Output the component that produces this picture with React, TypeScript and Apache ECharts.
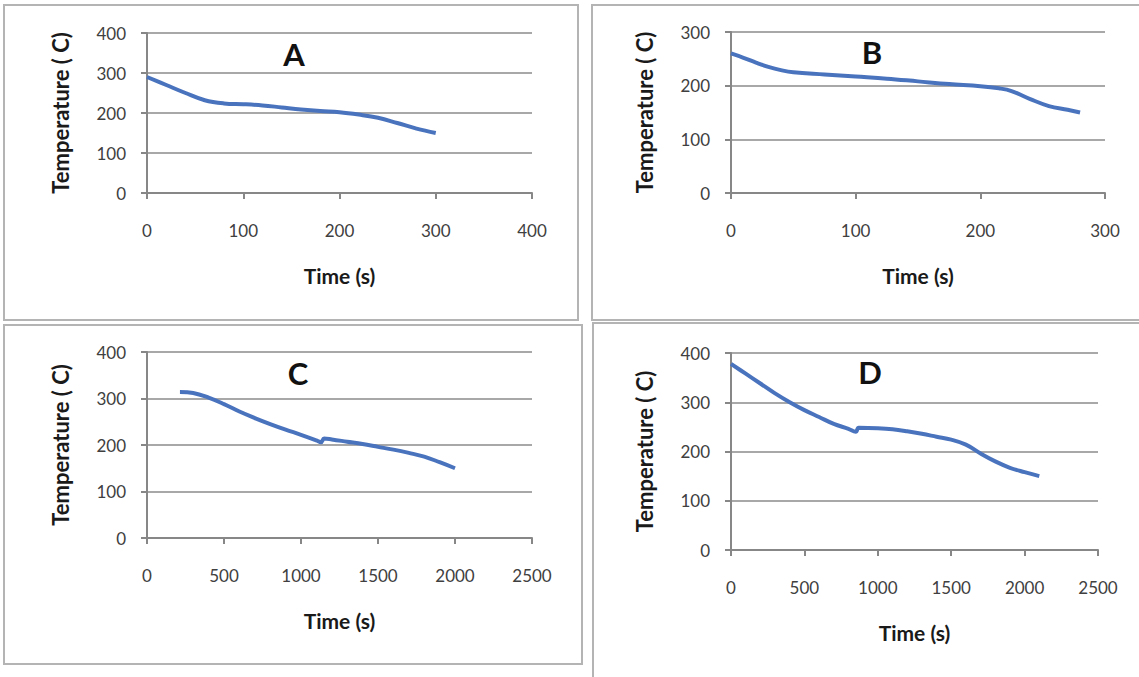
import React, { useEffect, useRef } from "react";
import * as echarts from "echarts";

// Panel A: Time (s) vs Temperature (C)
const dataA: [number, number][] = [
  [0, 290], [20, 270], [40, 250], [60, 232], [80, 224], [100, 222], [120, 219],
  [140, 214], [160, 209], [180, 205], [200, 202], [220, 196], [240, 188],
  [260, 175], [280, 161], [300, 150],
];
// Panel B
const dataB: [number, number][] = [
  [0, 260], [10, 252], [20, 243], [30, 235], [40, 229], [50, 225], [75, 221],
  [100, 217], [125, 213], [150, 208], [175, 203], [200, 199], [215, 195],
  [225, 190], [240, 175], [255, 162], [270, 155], [280, 150],
];
// Panel C
const dataC: [number, number][] = [
  [214, 314], [300, 312], [400, 302], [500, 288], [600, 272], [700, 258],
  [800, 245], [900, 233], [1000, 222], [1100, 210], [1130, 206], [1150, 214],
  [1200, 212], [1300, 207], [1400, 202], [1500, 196], [1600, 190], [1700, 183],
  [1800, 175], [1900, 163], [2000, 150],
];
// Panel D
const dataD: [number, number][] = [
  [0, 378], [100, 358], [200, 338], [300, 318], [400, 300], [500, 284],
  [600, 270], [700, 256], [800, 246], [850, 240], [870, 248], [1000, 247],
  [1100, 245], [1200, 241], [1300, 236], [1400, 230], [1500, 224], [1600, 214],
  [1700, 196], [1800, 180], [1900, 167], [2000, 158], [2100, 150],
];

const panelLetters = ["A", "B", "C", "D"];
const xMaxes = [400, 300, 2500, 2500];
const xIntervals = [100, 100, 500, 500];
const yMaxes = [400, 300, 400, 400];
const yInterval = 100;
const xTitle = "Time (s)";
const yTitle = "Temperature ( C)";

const FONT = "Lato, 'Open Sans', sans-serif";
const AXIS_COLOR = "#878787";
const GRID_COLOR = "#a8a8a8";
const LINE_COLOR = "#4a73be";

const grids = [
  { left: 147, top: 33, width: 385, height: 160 },
  { left: 731, top: 32, width: 374, height: 161 },
  { left: 147, top: 352, width: 385, height: 186 },
  { left: 731, top: 353, width: 367, height: 197 },
];
const letterPos = [
  [294, 54],
  [872, 52],
  [298, 373],
  [870, 372],
];
const boxes = [
  { x: 4, y: 5, width: 574, height: 315 },
  { x: 592, y: 5, width: 560, height: 315 },
  { x: 4, y: 325, width: 578, height: 339 },
  { x: 593, y: 323, width: 560, height: 370 },
];

export default function App() {
  const ref = useRef<HTMLDivElement>(null);
  useEffect(() => {
    document.body.style.margin = "0";
    if (!ref.current) return;
    const chart = echarts.init(ref.current, undefined, { renderer: "svg" });
    const series = [dataA, dataB, dataC, dataD];
    const option = {
      animation: false,
      backgroundColor: "#ffffff",
      grid: grids.map((g) => ({ ...g, containLabel: false })),
      xAxis: grids.map((_, i) => ({
        type: "value",
        gridIndex: i,
        min: 0,
        max: xMaxes[i],
        interval: xIntervals[i],
        axisLine: { show: true, onZero: false, lineStyle: { color: AXIS_COLOR, width: 2 } },
        axisTick: { show: true, length: 6, lineStyle: { color: AXIS_COLOR, width: 2 } },
        axisLabel: {
          margin: 29,
          fontSize: 17,
          color: "#404040",
          fontFamily: FONT,
          formatter: (v: number) => String(v),
        },
        splitLine: { show: false },
        name: xTitle,
        nameLocation: "middle",
        nameGap: 72,
        nameTextStyle: { fontSize: 21, fontWeight: "bold", color: "#1a1a1a", fontFamily: FONT },
      })),
      yAxis: grids.map((_, i) => ({
        type: "value",
        gridIndex: i,
        min: 0,
        max: yMaxes[i],
        interval: yInterval,
        axisLine: { show: true, lineStyle: { color: AXIS_COLOR, width: 2 } },
        axisTick: { show: true, length: 6, lineStyle: { color: AXIS_COLOR, width: 2 } },
        axisLabel: {
          margin: 21,
          fontSize: 17,
          color: "#404040",
          fontFamily: FONT,
          formatter: (v: number) => String(v),
        },
        splitLine: { show: true, lineStyle: { color: GRID_COLOR, width: 2 } },
        name: yTitle,
        nameLocation: "middle",
        nameGap: 76,
        nameTextStyle: { fontSize: 22, fontWeight: "bold", color: "#1a1a1a", fontFamily: FONT },
      })),
      series: series.map((d, i) => ({
        type: "line",
        xAxisIndex: i,
        yAxisIndex: i,
        data: d,
        smooth: 0.4,
        showSymbol: false,
        symbol: "none",
        lineStyle: { color: LINE_COLOR, width: 4 },
      })),
      graphic: [
        ...boxes.map((b) => ({
          type: "rect",
          shape: b,
          style: { fill: "none", stroke: "#b4b4b4", lineWidth: 2 },
          silent: true,
        })),
        ...panelLetters.map((t, i) => ({
          type: "text",
          x: letterPos[i][0],
          y: letterPos[i][1],
          style: {
            text: t,
            fontSize: 31,
            fontWeight: "bold",
            fontFamily: FONT,
            fill: "#111111",
            align: "center",
            verticalAlign: "middle",
          },
        })),
      ],
    };
    chart.setOption(option as any);
    return () => chart.dispose();
  }, []);
  return <div ref={ref} style={{ width: 1139, height: 677 }} />;
}
